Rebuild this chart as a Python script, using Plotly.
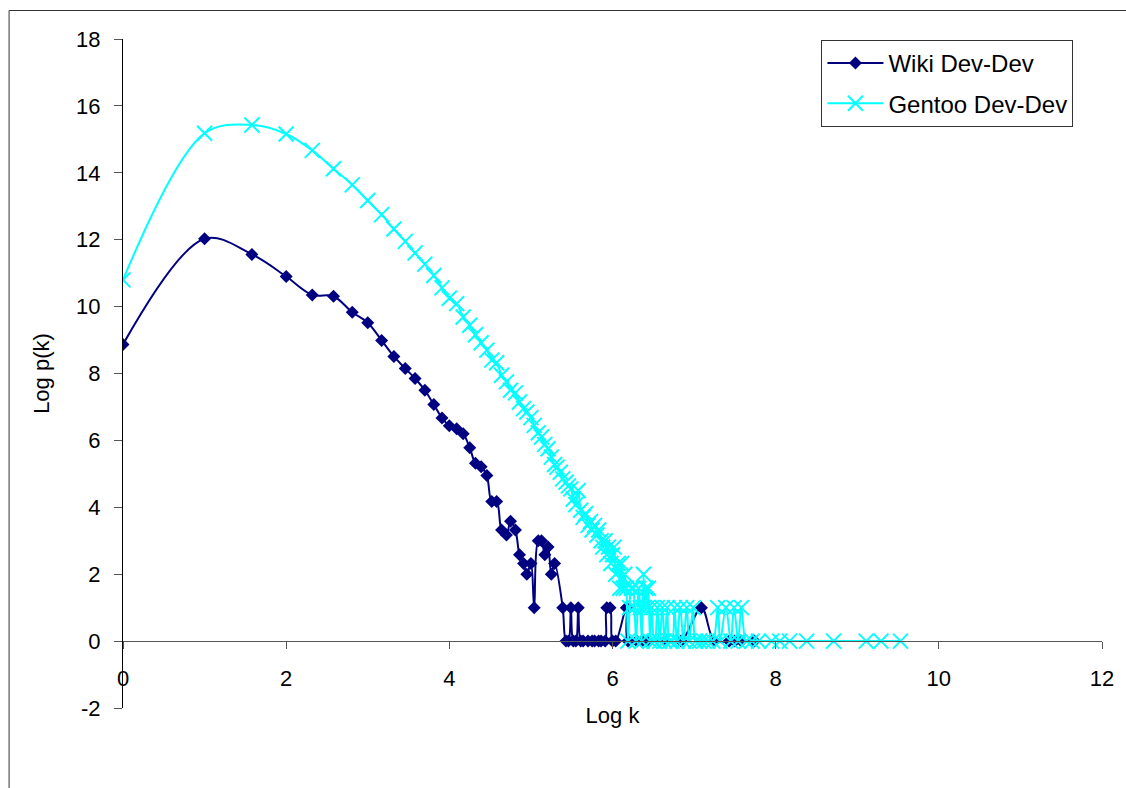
import plotly.graph_objects as go

# Degree distributions on log-log axes (log k vs log p(k))
wiki_logk = [0, 1.0, 1.58, 2.0, 2.32, 2.58, 2.81, 3.0, 3.17, 3.32, 3.46, 3.58, 3.70, 3.81,
             3.91, 4.0, 4.09, 4.17, 4.25, 4.32, 4.39, 4.46, 4.52, 4.58, 4.64, 4.70, 4.75,
             4.81, 4.86, 4.91, 4.95, 5.0, 5.04, 5.09, 5.13, 5.17, 5.21, 5.25, 5.29, 5.39,
             5.43, 5.46, 5.49, 5.52, 5.55, 5.58, 5.61, 5.64, 5.70, 5.75, 5.78, 5.83, 5.86,
             5.91, 5.93, 5.97, 6.0, 6.04, 6.17, 6.19, 6.30, 6.36, 6.43, 6.64, 6.84, 7.09,
             7.25, 7.43, 7.50, 7.58, 7.74]
wiki_logp = [8.87, 12.03, 11.56, 10.90, 10.35, 10.31, 9.83, 9.52, 8.99, 8.51, 8.15, 7.85,
             7.50, 7.07, 6.67, 6.44, 6.35, 6.20, 5.78, 5.32, 5.21, 4.95, 4.17, 4.17, 3.32,
             3.17, 3.58, 3.32, 2.58, 2.32, 2.0, 2.32, 1.0, 3.0, 3.0, 2.58, 2.81, 2.0, 2.32,
             1.0, 0, 0, 1.0, 0, 0, 1.0, 0, 0, 0, 0, 0, 0, 0, 0, 1.0, 1.0, 0, 0, 1.0, 0, 0,
             0, 0, 0, 0, 1.0, 0, 0, 0, 0, 0]

gentoo_logk = [0, 1.0, 1.58, 2.0, 2.32, 2.58, 2.81, 3.0, 3.17, 3.32, 3.46, 3.58, 3.70, 3.81,
               3.91, 4.0, 4.09, 4.17, 4.25, 4.32, 4.39, 4.46, 4.52, 4.58, 4.64, 4.70, 4.75,
               4.81, 4.86, 4.91, 4.95, 5.0, 5.04, 5.09, 5.13, 5.17, 5.21, 5.25, 5.29, 5.32,
               5.36, 5.39, 5.43, 5.46, 5.49, 5.52, 5.55, 5.58, 5.61, 5.64, 5.67, 5.70, 5.73,
               5.75, 5.78, 5.81, 5.83, 5.86, 5.88, 5.91, 5.93, 5.95, 5.98, 6.0, 6.02, 6.04,
               6.07, 6.09, 6.11, 6.13, 6.15, 6.17, 6.19, 6.21, 6.23, 6.25, 6.27, 6.29, 6.32,
               6.34, 6.36, 6.38, 6.39, 6.41, 6.43, 6.44, 6.46, 6.48, 6.51, 6.52, 6.55, 6.58,
               6.61, 6.64, 6.67, 6.70, 6.73, 6.76, 6.79, 6.83, 6.87, 6.91, 6.94, 6.99, 7.02,
               7.07, 7.12, 7.17, 7.23, 7.29, 7.32, 7.39, 7.45, 7.49, 7.54, 7.58, 7.64, 7.71,
               7.79, 7.95, 8.05, 8.17, 8.38, 8.71, 9.11, 9.29, 9.53]
gentoo_logp = [10.80, 15.18, 15.43, 15.16, 14.67, 14.12, 13.64, 13.17, 12.75, 12.32, 11.95,
               11.60, 11.27, 10.93, 10.56, 10.25, 10.09, 9.69, 9.44, 9.16, 8.92, 8.70, 8.40,
               8.32, 7.95, 7.75, 7.50, 7.42, 7.15, 6.95, 6.85, 6.68, 6.45, 6.23, 6.10, 5.88,
               5.75, 5.50, 5.28, 5.20, 5.05, 4.85, 4.75, 4.64, 4.55, 4.25, 4.08, 4.50, 3.91,
               3.70, 3.81, 3.46, 3.58, 3.32, 3.46, 3.17, 3.32, 3.0, 2.81, 3.0, 2.58, 2.81,
               2.32, 2.58, 2.81, 2.0, 2.32, 1.58, 2.32, 1.58, 2.0, 1.58, 0, 1.0, 1.58, 1.58,
               1.0, 0, 1.58, 1.0, 0, 2.0, 1.0, 1.58, 1.0, 1.58, 0, 1.0, 0, 0, 1.0, 0, 1.0, 0,
               1.0, 0, 0, 1.0, 0, 1.0, 0, 1.0, 0, 1.0, 0, 0, 0, 0, 0, 1.0, 0, 1.0, 0, 1.0, 0,
               1.0, 0, 0, 0, 0, 0, 0, 0, 0, 0, 0, 0]

x_ticks = [0, 2, 4, 6, 8, 10, 12]
y_ticks = [-2, 0, 2, 4, 6, 8, 10, 12, 14, 16, 18]

FONT = "Liberation Sans, Arial, sans-serif"
NAVY = "#000080"
CYAN = "#00FFFF"

fig = go.Figure()
fig.add_trace(go.Scatter(
    x=wiki_logk, y=wiki_logp, name="Wiki Dev-Dev", legendgroup="wiki",
    mode="lines+markers",
    line=dict(color=NAVY, width=2, shape="spline"),
    marker=dict(symbol="diamond", size=10, color=NAVY, line=dict(width=0)),
))
fig.add_trace(go.Scatter(
    x=gentoo_logk, y=gentoo_logp, name="Gentoo Dev-Dev", legendgroup="gentoo",
    mode="lines+markers",
    line=dict(color=CYAN, width=2, shape="spline"),
    marker=dict(symbol="x-thin", size=15, color=CYAN, line=dict(width=2, color=CYAN)),
))

W, H = 1126, 788
L, R, T, B = 123, 19, 39, 80
pw, ph = W - L - R, H - T - B

def px_x(p):
    return (p - L) / pw

def px_y(p):
    return (H - B - p) / ph

fig.update_layout(
    width=W, height=H,
    margin=dict(l=L, r=R, t=T, b=B),
    paper_bgcolor="white", plot_bgcolor="white",
    font=dict(family=FONT, size=22, color="black"),
    showlegend=True,
    legend=dict(
        x=px_x(825), y=px_y(40), xanchor="left", yanchor="top",
        bordercolor="#333333", borderwidth=1, bgcolor="white",
        font=dict(family=FONT, size=24, color="black"),
        traceorder="grouped", tracegroupgap=6, itemwidth=56,
    ),
    xaxis=dict(
        range=[0, 12], tickvals=x_ticks, ticktext=[str(v) for v in x_ticks],
        showgrid=False, zeroline=False,
        showline=True, linecolor="#555555", linewidth=1,
        ticks="outside", ticklen=7, tickcolor="#555555", ticklabelstandoff=10,
        anchor="free", position=0.1,
        title=dict(text="Log k", font=dict(family=FONT, size=22), standoff=18),
    ),
    yaxis=dict(
        range=[-2, 18], tickvals=y_ticks, ticktext=[str(v) for v in y_ticks],
        showgrid=False, zeroline=False,
        showline=True, linecolor="black", linewidth=1,
        ticks="outside", ticklen=8, tickcolor="#555555", ticklabelstandoff=9,
        title=dict(text="Log p(k)", font=dict(family=FONT, size=22), standoff=20),
    ),
)

# Outer chart frame
fig.add_shape(type="rect", xref="paper", yref="paper",
              x0=px_x(8.5), x1=px_x(1140), y0=px_y(800), y1=px_y(10.5),
              line=dict(color="#333333", width=1), fillcolor="rgba(0,0,0,0)",
              layer="below")

fig.write_html("out.html")
